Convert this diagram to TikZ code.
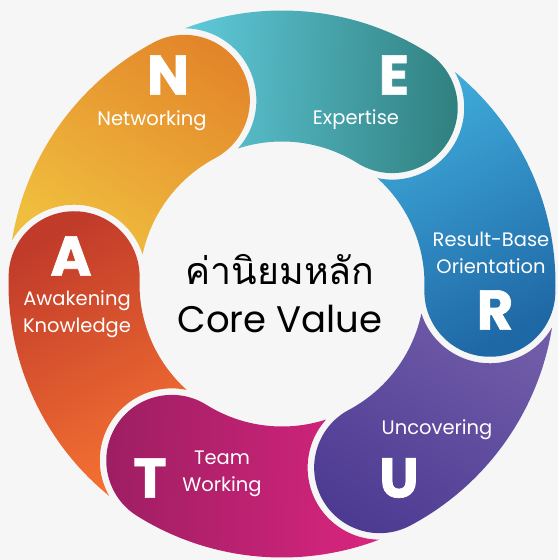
\documentclass[tikz,border=0pt]{standalone}
\usepackage{fontspec}
\setmainfont{Poppins}
\newfontfamily\heavyfont{Poppins}[BoldFeatures={FakeBold=1.2}]
\newfontfamily\thaifont[Script=Thai]{Loma}
\definecolor{bgc}{HTML}{F6F6F6}
\definecolor{aT}{HTML}{F47132}\definecolor{aB}{HTML}{C13B2A}
\definecolor{nT}{HTML}{F0BE3E}\definecolor{nB}{HTML}{E3862A}
\definecolor{eT}{HTML}{5FC9D9}\definecolor{eB}{HTML}{2F7E7D}
\definecolor{rT}{HTML}{3FAADA}\definecolor{rB}{HTML}{1F68A6}
\definecolor{uT}{HTML}{6F5BA7}\definecolor{uB}{HTML}{4D3B93}
\definecolor{tT}{HTML}{D8257E}\definecolor{tB}{HTML}{9C1E62}
\newcommand\ringseg[3]{%
  \pgfmathsetmacro\shang{#1+30}%
  \shade[left color=#2, right color=#3, shading angle=\shang]
    ({#1+52.82}:273.5pt) arc[start angle={#1+52.82}, end angle={#1}, radius=273.5pt]
    arc[start angle={#1}, end angle={#1-180}, radius=65.5pt]
    arc[start angle={#1}, end angle={#1+50.03}, radius=142.5pt]
    arc[start angle={#1-99.96}, end angle={#1+31.66}, radius=72pt]
    -- cycle;}
\tikzset{
  bigl/.style={text=white, font=\heavyfont\fontsize{56}{56}\selectfont\bfseries, inner sep=0pt, anchor=center},
  lab/.style={text=white, font=\fontsize{19.5}{27}\selectfont, inner sep=0pt, align=center, anchor=center},
}
\begin{document}
\begin{tikzpicture}[x=1pt,y=1pt]
\fill[bgc] (0,0) rectangle (558,560);
\useasboundingbox (0,0) rectangle (558,560);
\begin{scope}[shift={(282,276)}]
  \ringseg{178}{aT}{aB}
  \ringseg{118}{nT}{nB}
  \ringseg{58}{eT}{eB}
  \ringseg{-2}{rT}{rB}
  \ringseg{-62}{uT}{uB}
  \ringseg{-122}{tT}{tB}
\end{scope}
\node[bigl] (ln) at (168,485) {N};
\node[lab] (tn) at (152,439) {Networking};
\node[bigl] (le) at (394,485) {E};
\node[lab] (te) at (356,440) {Expertise};
\node[lab] (tr) at (491,307.5) {Result-Base\\Orientation};
\node[bigl] (lr) at (495,250) {R};
\node[lab] (tu) at (437,130) {Uncovering};
\node[bigl] (lu) at (399,82) {U};
\node[lab] (tt) at (222,86.5) {Team\\Working};
\node[bigl] (lt) at (150,82) {T};
\node[bigl] (la) at (71,304) {A};
\node[lab] (ta) at (77,245.5) {Awakening\\Knowledge};
\node[font=\thaifont\fontsize{37.5}{37.5}\selectfont, inner sep=0pt] (th) at (280,290) {ค่านิยมหลัก};
\node[font=\fontsize{37}{37}\selectfont, inner sep=0pt] (cv) at (280,241) {Core Value};
\end{tikzpicture}
\end{document}
